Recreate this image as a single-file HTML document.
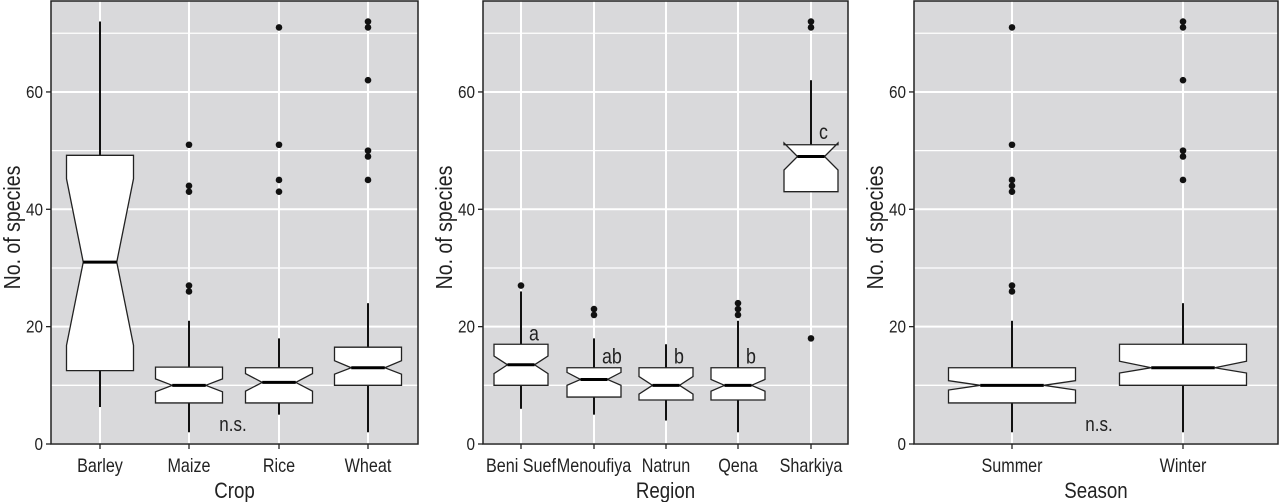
<!DOCTYPE html>
<html><head><meta charset="utf-8"><style>
body{margin:0;background:#fff;}
svg{display:block;font-family:"Liberation Sans",sans-serif;}
</style></head><body>
<svg id="c" width="1280" height="502" xmlns="http://www.w3.org/2000/svg"></svg>
<script>
// ---- data ----
const cropCats = ["Barley","Maize","Rice","Wheat"];
const cropLow = [6.3,2,5,2];
const cropQ1 = [12.5,7,7,10];
const cropMed = [31,10,10.5,13];
const cropQ3 = [49.2,13.1,13,16.5];
const cropHigh = [72,21,18,24];
const cropNotchLo = [16.8,8.9,9,11.9];
const cropNotchHi = [45.2,11.1,12,14.2];
const cropOut = [[],[51,44,43,27,26],[71,51,45,43],[72,71,62,50,49,45]];

const regionCats = ["Beni Suef","Menoufiya","Natrun","Qena","Sharkiya"];
const regionLow = [6,5,4,2,43];
const regionQ1 = [10,8,7.5,7.5,43];
const regionMed = [13.5,11,10,10,49];
const regionQ3 = [17,13,13,13,51];
const regionHigh = [26,18,17,21,62];
const regionNotchLo = [12,10,8.5,9,46.7];
const regionNotchHi = [15,12.2,11.5,11,51.3];
const regionOut = [[27],[23,22],[],[24,23,22],[72,71,18]];
const regionLetters = ["a","ab","b","b","c"];

const seasonCats = ["Summer","Winter"];
const seasonLow = [2,2];
const seasonQ1 = [7,10];
const seasonMed = [10,13];
const seasonQ3 = [13,17];
const seasonHigh = [21,24];
const seasonNotchLo = [9.2,12.1];
const seasonNotchHi = [10.8,14.1];
const seasonOut = [[71,51,45,44,43,27,26],[72,71,62,50,49,45]];

const yTicks = [0,20,40,60];
const yMinor = [10,30,50,70];

const NS="http://www.w3.org/2000/svg";
const svg=document.getElementById('c');
function mk(tag,attrs,parent){const e=document.createElementNS(NS,tag);for(const k in attrs)e.setAttribute(k,attrs[k]);(parent||svg).appendChild(e);return e;}
function txt(x,y,s,size,anchor,parent,rot){
  const t=mk('text',{x:0,y:0,'text-anchor':anchor,'font-size':size,fill:'#222',
    transform:`translate(${x},${y})`+(rot?` rotate(${rot})`:'')+' scale(0.85,1)'},parent);
  t.textContent=s;return t;
}

const plotTop=1,plotBottom=444,vmax=75.5;
function yScale(v){return plotBottom-(v/vmax)*(plotBottom-plotTop);}

function panel(p){
  const g=mk('g',{});
  
  
  const bg=mk('rect',{x:p.left,y:plotTop,width:p.right-p.left,height:plotBottom-plotTop,fill:'#d9d9db'},g);
  
  
  yMinor.forEach(v=>{const l=mk('line',{x1:p.left,x2:p.right,y1:yScale(v),y2:yScale(v),stroke:'#fff','stroke-width':1.3},g);
    });
  yTicks.forEach(v=>{const l=mk('line',{x1:p.left,x2:p.right,y1:yScale(v),y2:yScale(v),stroke:'#fff','stroke-width':2},g);
    });
  p.cats.forEach((c,i)=>{const l=mk('line',{x1:p.xs[i],x2:p.xs[i],y1:plotTop,y2:plotBottom,stroke:'#fff','stroke-width':2},g);
    });
  p.cats.forEach((c,i)=>{
    const x=p.xs[i],hw=p.bw/2,nw=hw*0.5;
    const bg2=mk('g',{},g);
    
    
    if(p.high[i]>p.q3[i]) mk('line',{x1:x,x2:x,y1:yScale(p.q3[i]),y2:yScale(p.high[i]),stroke:'#111','stroke-width':2},bg2);
    if(p.low[i]<p.q1[i]) mk('line',{x1:x,x2:x,y1:yScale(p.q1[i]),y2:yScale(p.low[i]),stroke:'#111','stroke-width':2},bg2);
    const q1=yScale(p.q1[i]),q3=yScale(p.q3[i]),nl=yScale(p.nlo[i]),nh=yScale(p.nhi[i]),md=yScale(p.med[i]);
    const pts=[[x-hw,q1],[x-hw,nl],[x-nw,md],[x-hw,nh],[x-hw,q3],[x+hw,q3],[x+hw,nh],[x+nw,md],[x+hw,nl],[x+hw,q1]];
    mk('polygon',{points:pts.map(a=>a.join(',')).join(' '),fill:'#fff',stroke:'#222','stroke-width':1.3},bg2);
    mk('line',{x1:x-nw,x2:x+nw,y1:md,y2:md,stroke:'#000','stroke-width':3},bg2);
    p.out[i].forEach(v=>{const d=mk('circle',{cx:x,cy:yScale(v),r:3.3,fill:'#111'},bg2);
      });
    if(p.letters){const t=txt(x+8,yScale(Math.max(p.q3[i],p.nhi[i]))-4,p.letters[i],21,'start',bg2);
      }
    mk('line',{x1:x,x2:x,y1:plotBottom,y2:plotBottom+5,stroke:'#222','stroke-width':1.3},g);
    const tl=txt(x,472,c,19,'middle',g);
    
  });
  if(p.ns){const t=txt(p.ns,431,'n.s.',20,'middle',g);
    }
  const f=mk('rect',{x:p.left,y:plotTop,width:p.right-p.left,height:plotBottom-plotTop,fill:'none',stroke:'#222','stroke-width':1.5},g);
  
  yTicks.forEach(v=>{mk('line',{x1:p.left-5,x2:p.left,y1:yScale(v),y2:yScale(v),stroke:'#222','stroke-width':1.3},g);
    const t=txt(p.left-8,yScale(v)+6,String(v),18,'end',g);
    });
  const yt=txt(p.left-31,(plotTop+plotBottom)/2+5,'No. of species',23,'middle',g,-90);
  
  const xt=txt((p.left+p.right)/2,498,p.title,22,'middle',g);
  
}

panel({name:'crop',left:51,right:418,cats:cropCats,xs:[100,189,279,368],bw:67,low:cropLow,q1:cropQ1,med:cropMed,q3:cropQ3,high:cropHigh,nlo:cropNotchLo,nhi:cropNotchHi,out:cropOut,title:'Crop',ns:233});
panel({name:'region',left:483,right:848,cats:regionCats,xs:[521,594,666,738,811],bw:54,low:regionLow,q1:regionQ1,med:regionMed,q3:regionQ3,high:regionHigh,nlo:regionNotchLo,nhi:regionNotchHi,out:regionOut,title:'Region',letters:regionLetters});
panel({name:'season',left:914,right:1278,cats:seasonCats,xs:[1012,1183],bw:127,low:seasonLow,q1:seasonQ1,med:seasonMed,q3:seasonQ3,high:seasonHigh,nlo:seasonNotchLo,nhi:seasonNotchHi,out:seasonOut,title:'Season',ns:1099});
</script>
</body></html>
